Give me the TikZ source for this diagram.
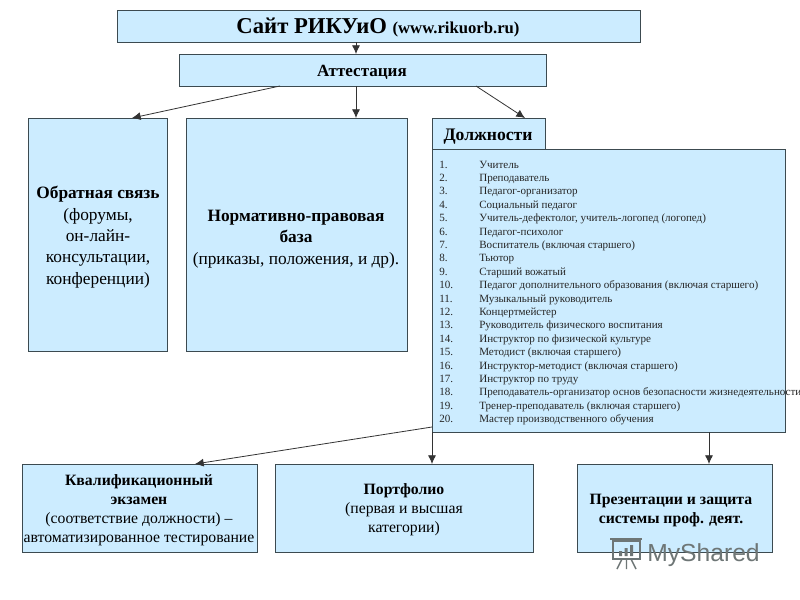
\documentclass[tikz,border=0pt]{standalone}
\usepackage{fontspec}
\setmainfont{Liberation Serif}
\newfontfamily\wmfont{Liberation Sans}
\usetikzlibrary{arrows.meta}
\definecolor{boxfill}{HTML}{CCECFF}
\definecolor{boxline}{HTML}{3C4A50}
\definecolor{wmgray}{HTML}{6E7676}
\tikzset{
  px/.style={x=0.75pt,y=-0.75pt},
  panel/.style={draw=boxline,fill=boxfill,line width=0.8pt,anchor=north west,inner sep=0pt,align=center,text=black!90},
  link/.style={draw=black!80,line width=0.6pt,-{Latex[length=6.5pt,width=6pt]}},
  rownum/.style={anchor=base west,inner sep=0pt,font=\fontsize{8.3pt}{9pt}\selectfont,text=black!85},
  rowtext/.style={anchor=base west,inner sep=0pt,font=\fontsize{8.3pt}{9pt}\selectfont,text=black!85},
  body/.style={font=\fontsize{13pt}{16pt}\selectfont},
  small/.style={font=\fontsize{11.8pt}{14.4pt}\selectfont}
}
\begin{document}
\begin{tikzpicture}[px]
\useasboundingbox (0,0) rectangle (800,600);
\clip (0,0) rectangle (800,600);
\fill[white] (0,0) rectangle (800,600);

\node[panel,minimum width=523*0.75pt,minimum height=32*0.75pt] (site) at (117,10) {};
\node[anchor=base,inner sep=0pt] (sitetext) at (378,33) {\fontsize{17pt}{20pt}\selectfont\bfseries Сайт РИКУиО \fontsize{12.5pt}{14pt}\selectfont (www.rikuorb.ru)};
\node[panel,minimum width=367*0.75pt,minimum height=32*0.75pt] (att) at (179,54) {};
\node[anchor=base,inner sep=0pt,font=\fontsize{12.8pt}{14pt}\selectfont\bfseries] (atttext) at (362,76) {Аттестация};

\node[panel,minimum width=139*0.75pt,minimum height=233*0.75pt] (fb) at (28,118) {};
\node[anchor=north,inner sep=0pt,align=center,body] (fbtext) at (98,186) {\textbf{Обратная связь}\\(форумы,\\он-лайн-\\консультации,\\конференции)};
\node[panel,minimum width=221*0.75pt,minimum height=233*0.75pt] (law) at (186,118) {};
\node[anchor=north,inner sep=0pt,align=center,body] (lawtext) at (296,210) {\textbf{Нормативно-правовая}\\\textbf{база}\\(приказы, положения, и др).};

\node[panel,minimum width=113*0.75pt,minimum height=32*0.75pt] (post) at (432,118) {};
\node[anchor=base,inner sep=0pt,font=\fontsize{13.2pt}{14pt}\selectfont\bfseries] (posttext) at (488,140) {Должности};
\node[panel,minimum width=353*0.75pt,minimum height=283*0.75pt] (list) at (432,149) {};

\foreach \n/\t [count=\i from 0] in {
 1./Учитель,
 2./Преподаватель,
 3./Педагог-организатор,
 4./Социальный педагог,
 5./{Учитель-дефектолог, учитель-логопед (логопед)},
 6./Педагог-психолог,
 7./Воспитатель (включая старшего),
 8./Тьютор,
 9./Старший вожатый,
 10./Педагог дополнительного образования (включая старшего),
 11./Музыкальный руководитель,
 12./Концертмейстер,
 13./Руководитель физического  воспитания,
 14./Инструктор по физической культуре,
 15./Методист (включая старшего),
 16./Инструктор-методист (включая старшего),
 17./Инструктор по труду,
 18./Преподаватель-организатор основ  безопасности жизнедеятельности,
 19./Тренер-преподаватель (включая старшего),
 20./Мастер производственного обучения}
{
  \node[rownum] (num\i) at (439,168+13.4*\i) {\n};
  \node[rowtext] (row\i) at (479,168+13.4*\i) {\t};
}

\node[panel,minimum width=235*0.75pt,minimum height=88*0.75pt] (exam) at (22,464) {};
\node[anchor=north,inner sep=0pt,align=center,small] (examtext) at (139,474) {\textbf{Квалификационный}\\\textbf{экзамен}\\(соответствие должности) –\\автоматизированное тестирование};
\node[panel,minimum width=258*0.75pt,minimum height=88*0.75pt] (port) at (275,464) {};
\node[anchor=north,inner sep=0pt,align=center,small] (porttext) at (404,483) {\textbf{Портфолио}\\(первая и высшая\\категории)};
\node[panel,minimum width=195*0.75pt,minimum height=88*0.75pt] (pres) at (577,464) {};
\node[anchor=north,inner sep=0pt,align=center,small] (prestext) at (671,494) {\textbf{Презентации и защита}\\\textbf{системы проф. деят.}};

% connector end points on box edges
\coordinate (siteS) at (356,42);
\coordinate (attT) at (356,54);
\coordinate (a1) at (280,86);
\coordinate (a2) at (356,86);
\coordinate (a3) at (476,86);
\coordinate (fbT) at (132,118);
\coordinate (lawT) at (356,118);
\coordinate (postT) at (525,118);
\coordinate (l1) at (432,427);
\coordinate (l2) at (432,432);
\coordinate (l3) at (709,432);
\coordinate (examT) at (195,464);
\coordinate (portT) at (432,464);
\coordinate (presT) at (709,464);
\draw[link] (siteS) -- (attT);
\draw[link] (a1) -- (fbT);
\draw[link] (a2) -- (lawT);
\draw[link] (a3) -- (postT);
\draw[link] (l1) -- (examT);
\draw[link] (l2) -- (portT);
\draw[link] (l3) -- (presT);

% watermark
\node[anchor=base west,inner sep=0pt,text=wmgray,font=\wmfont\fontsize{18.5pt}{20pt}\selectfont] (wm) at (647,561) {MyShared};
\begin{scope}[draw=wmgray,line width=1.1pt]
\draw (613,541) rectangle (640,559);
\draw (610,539) -- (642,539);
\draw (622,559) -- (617,569) (631,559) -- (636,569) (626.5,559) -- (626.5,569);
\fill[wmgray] (619,551) rectangle (622,556) (624.5,548) rectangle (627.5,556) (630,545) rectangle (633,556);
\end{scope}
\end{tikzpicture}
\end{document}
